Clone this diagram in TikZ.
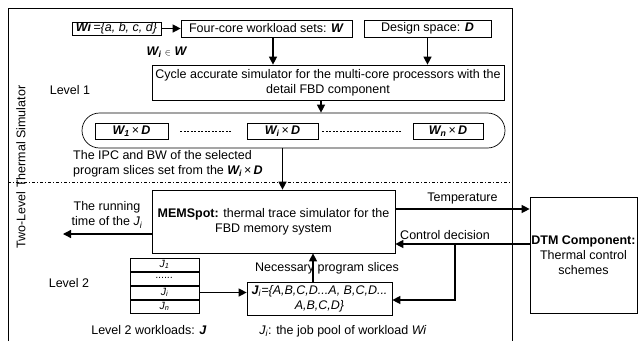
\documentclass[tikz,border=0pt]{standalone}
\usepackage{fontspec}
\setmainfont{Liberation Sans}
\usetikzlibrary{arrows.meta,positioning}

\newcommand{\bi}[1]{\textbf{\textit{#1}}}

\begin{document}
\begin{tikzpicture}[x=1pt,y=-1pt,
    every node/.style={font=\fontsize{12.5}{15}\selectfont, inner sep=0pt},
    box/.style={draw, line width=0.7pt, align=center},
    row/.style={box, minimum width=69pt, minimum height=13.3pt, font=\fontsize{10.5}{11}\selectfont},
    arr/.style={line width=1.3pt, -{Triangle[length=8pt,width=8pt]}}]
\useasboundingbox (0,0) rectangle (639,341);

% frame of the simulator and the border between the two levels
\draw[line width=0.7pt] (8,341) -- (8,8) -- (512,8) -- (512,341);
\draw[line width=0.6pt, dash pattern=on 3pt off 2pt on 1pt off 2pt] (8,182) -- (512,182);
\node[rotate=90] (sim) at (21,167) {Two-Level Thermal Simulator};
\node (lv1) at (70,90) {Level 1};
\node (lv2) at (69,283) {Level 2};

% level 1
\node[box, minimum width=89pt, minimum height=13pt] (wi) at (116.5,28.5)
    {\bi{Wi}\,\textit{=\{a, b, c, d\}}};
\node[box, minimum width=171pt, minimum height=17pt] (four) at (266.5,28.5)
    {Four-core workload sets: \bi{W}};
\node[box, minimum width=127pt, minimum height=17pt] (design) at (427.5,28.5)
    {Design space: \bi{D}};
\node (wiw) at (167,52) {\bi{W\textsubscript{i}} {\fontsize{9}{9}\selectfont$\in$} \bi{W}};
\node[box, minimum width=352pt, minimum height=35pt] (cycle) at (328,82.5)
    {Cycle accurate simulator for the multi-core processors with the\\detail FBD component};
\draw[arr] (wi) -- (four);
\draw[arr] ([xshift=6.5pt]four.south) -- ([xshift=6.5pt]four.south |- cycle.north);
\draw[arr] (design) -- (design |- cycle.north);

\node[box, rounded corners=17.5pt, minimum width=423pt, minimum height=35pt] (pill) at (293.5,130.5) {};
\node[box, minimum width=73pt, minimum height=16pt] (w1d) at (131.5,131) {\bi{W\textsubscript{1}}\,×\,\bi{D}};
\node[box, minimum width=71pt, minimum height=16pt] (wid) at (282.5,131) {\bi{W\textsubscript{i}}\,×\,\bi{D}};
\node[box, minimum width=70pt, minimum height=16pt] (wnd) at (448,131) {\bi{W\textsubscript{n}}\,×\,\bi{D}};
\draw[line width=0.6pt, dash pattern=on 2pt off 1.5pt, shorten <=12pt, shorten >=14pt] (w1d) -- (wid);
\draw[line width=0.6pt, dash pattern=on 2pt off 1.5pt, shorten <=4pt, shorten >=10pt] (wid) -- (wnd);
\draw[arr] ([xshift=-7pt]cycle.south) -- ([xshift=-7pt]cycle.south |- pill.north);
\node[align=left, anchor=west] (ipc) at (73,164)
    {The IPC and BW of the selected\\program slices set from the \bi{W\textsubscript{i}}\,×\,\bi{D}};

% level 2
\node[box, minimum width=243pt, minimum height=63pt] (mem) at (273.5,221.5)
    {\textbf{MEMSpot:} thermal trace simulator for the\\FBD memory system};
\draw[arr] (wid.south |- pill.south) -- (wid.south |- mem.north);
\node[box, minimum width=107pt, minimum height=116pt] (dtm) at (583.5,255)
    {\textbf{DTM Component:}\\Thermal control\\schemes};
\draw[arr] ([yshift=12.5pt]mem.east) -- ([yshift=12.5pt]mem.east -| dtm.west)
    node[midway, above=4pt] {Temperature};
\draw[arr] ([yshift=-22.5pt]mem.east -| dtm.west) -- ([yshift=-22.5pt]mem.east)
    node[pos=0.63, above=4pt] {Control decision};
\coordinate (branch) at (455,244);
\coordinate (out) at (63,234);
\draw[arr] ([yshift=-12.5pt]mem.west) -- (out);
\node[align=center] (run) at (107,215) {The running\\time of the \textit{J\textsubscript{i}}};

\node[row] (j1) at (164.5,264.5) {\textit{J\textsubscript{1}}};
\node[row, below=0pt of j1] (jdots) {\raisebox{2pt}{\textit{......}}};
\node[row, below=0pt of jdots] (ji) {\textit{J\textsubscript{i}}};
\node[row, below=0pt of ji] (jn) {\textit{J\textsubscript{n}}};
\node (jlbl) at (149,330) {Level 2 workloads: \bi{J}};

\node[box, minimum width=145pt, minimum height=33pt] (jbox) at (319.5,298.5)
    {\bi{J}\textsubscript{\textit{i}}\textit{=\{A,B,C,D...A, B,C,D...}\\\textit{A,B,C,D\}}};
\node (jplbl) at (343,331) {\textit{J\textsubscript{i}}: the job pool of workload \textit{Wi}};
\draw[arr] (ji.east) -- (ji.east -| jbox.west);
\node (nec) at (327,268) {Necessary program slices};
\draw[arr] ([xshift=-6.5pt]jbox.north) -- ([xshift=-6.5pt]jbox.north |- mem.south);
\draw[arr] (branch) |- ([yshift=-1.5pt]jbox.east);
\end{tikzpicture}
\end{document}
